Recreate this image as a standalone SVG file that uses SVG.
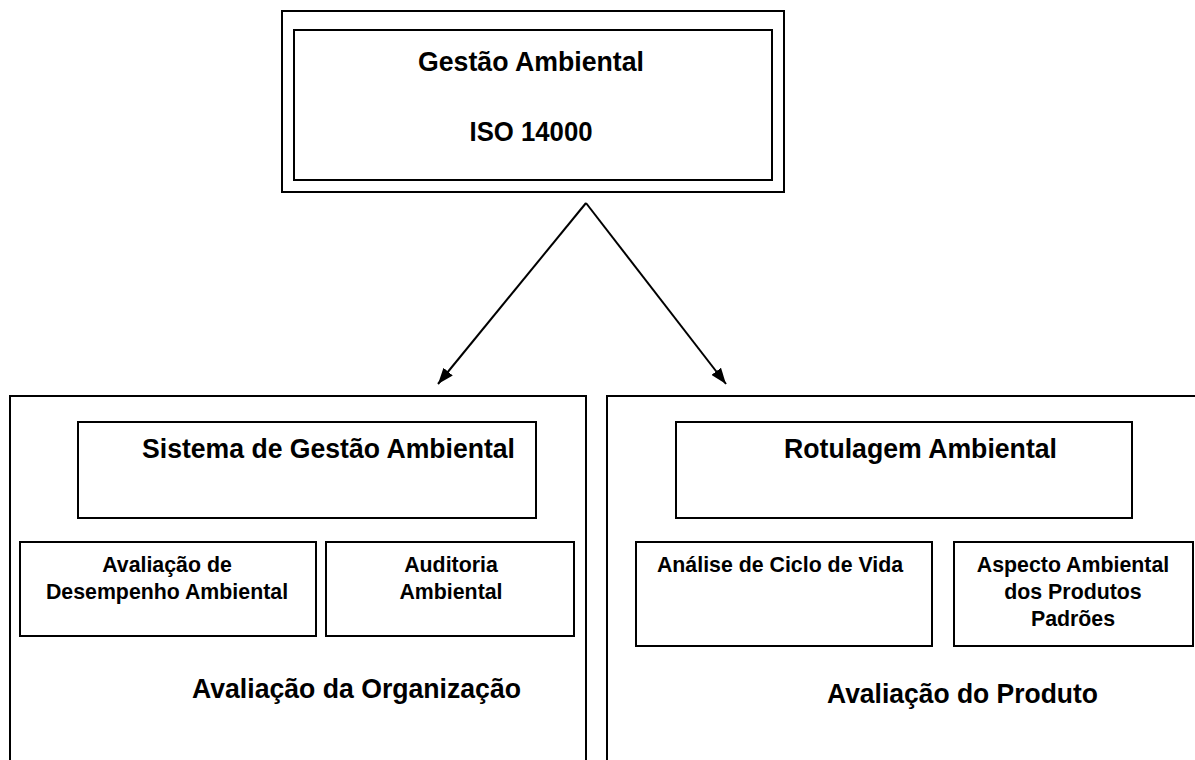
<svg xmlns="http://www.w3.org/2000/svg" width="1195" height="760" viewBox="0 0 1195 760">
<style>
.box{fill:#fff;stroke:#000;stroke-width:2}
.big{font-family:"Liberation Sans",Arial,sans-serif;font-weight:bold;font-size:28.5px;fill:#000}
.sm{font-family:"Liberation Sans",Arial,sans-serif;font-weight:bold;font-size:21.33px;fill:#000}
.mid{text-anchor:middle}
.conn{stroke:#000;stroke-width:2;fill:none}
</style>
<defs>
<marker id="arr" viewBox="0 0 16 12" refX="16" refY="6" markerWidth="16" markerHeight="12" markerUnits="userSpaceOnUse" orient="auto">
<path d="M0,0 L16,6 L0,12 Z" fill="#000"/>
</marker>
</defs>
<rect width="1195" height="760" fill="#fff"/>
<g id="iso14000">
<rect class="box" x="282" y="11" width="502" height="181"/>
<rect class="box" x="294" y="30" width="478" height="150"/>
<text class="big mid" x="531" y="70.5" textLength="226" lengthAdjust="spacingAndGlyphs">Gestão Ambiental</text>
<text class="big mid" x="531" y="140.5" textLength="123" lengthAdjust="spacingAndGlyphs">ISO 14000</text>
</g>
<g id="organizacao">
<rect class="box" x="10" y="396" width="576" height="380"/>
<text class="big" x="192" y="698" textLength="329" lengthAdjust="spacingAndGlyphs">Avaliação da Organização</text>
</g>
<g id="sga">
<rect class="box" x="78" y="422" width="458" height="96"/>
<text class="big" x="142" y="458" textLength="373" lengthAdjust="spacingAndGlyphs">Sistema de Gestão Ambiental</text>
</g>
<g id="desempenho">
<rect class="box" x="20" y="542" width="296" height="94"/>
<text class="sm mid" x="167" y="572">Avaliação de</text>
<text class="sm mid" x="167" y="599">Desempenho Ambiental</text>
</g>
<g id="auditoria">
<rect class="box" x="326" y="542" width="248" height="94"/>
<text class="sm mid" x="451" y="572">Auditoria</text>
<text class="sm mid" x="451" y="599">Ambiental</text>
</g>
<g id="produto">
<rect class="box" x="607" y="396" width="600" height="380"/>
<text class="big" x="827" y="703" textLength="271" lengthAdjust="spacingAndGlyphs">Avaliação do Produto</text>
</g>
<g id="rotulagem">
<rect class="box" x="676" y="422" width="456" height="96"/>
<text class="big" x="784" y="458" textLength="273" lengthAdjust="spacingAndGlyphs">Rotulagem Ambiental</text>
</g>
<g id="ciclo">
<rect class="box" x="636" y="542" width="296" height="104"/>
<text class="sm mid" x="780" y="572">Análise de Ciclo de Vida</text>
</g>
<g id="aspecto">
<rect class="box" x="954" y="542" width="239" height="104"/>
<text class="sm mid" x="1073" y="572">Aspecto Ambiental</text>
<text class="sm mid" x="1073" y="599">dos Produtos</text>
<text class="sm mid" x="1073" y="626">Padrões</text>
</g>
<g id="connectors">
<line class="conn" x1="586" y1="203" x2="438" y2="384" marker-end="url(#arr)"/>
<line class="conn" x1="586" y1="203" x2="726" y2="384" marker-end="url(#arr)"/>
</g>
</svg>
